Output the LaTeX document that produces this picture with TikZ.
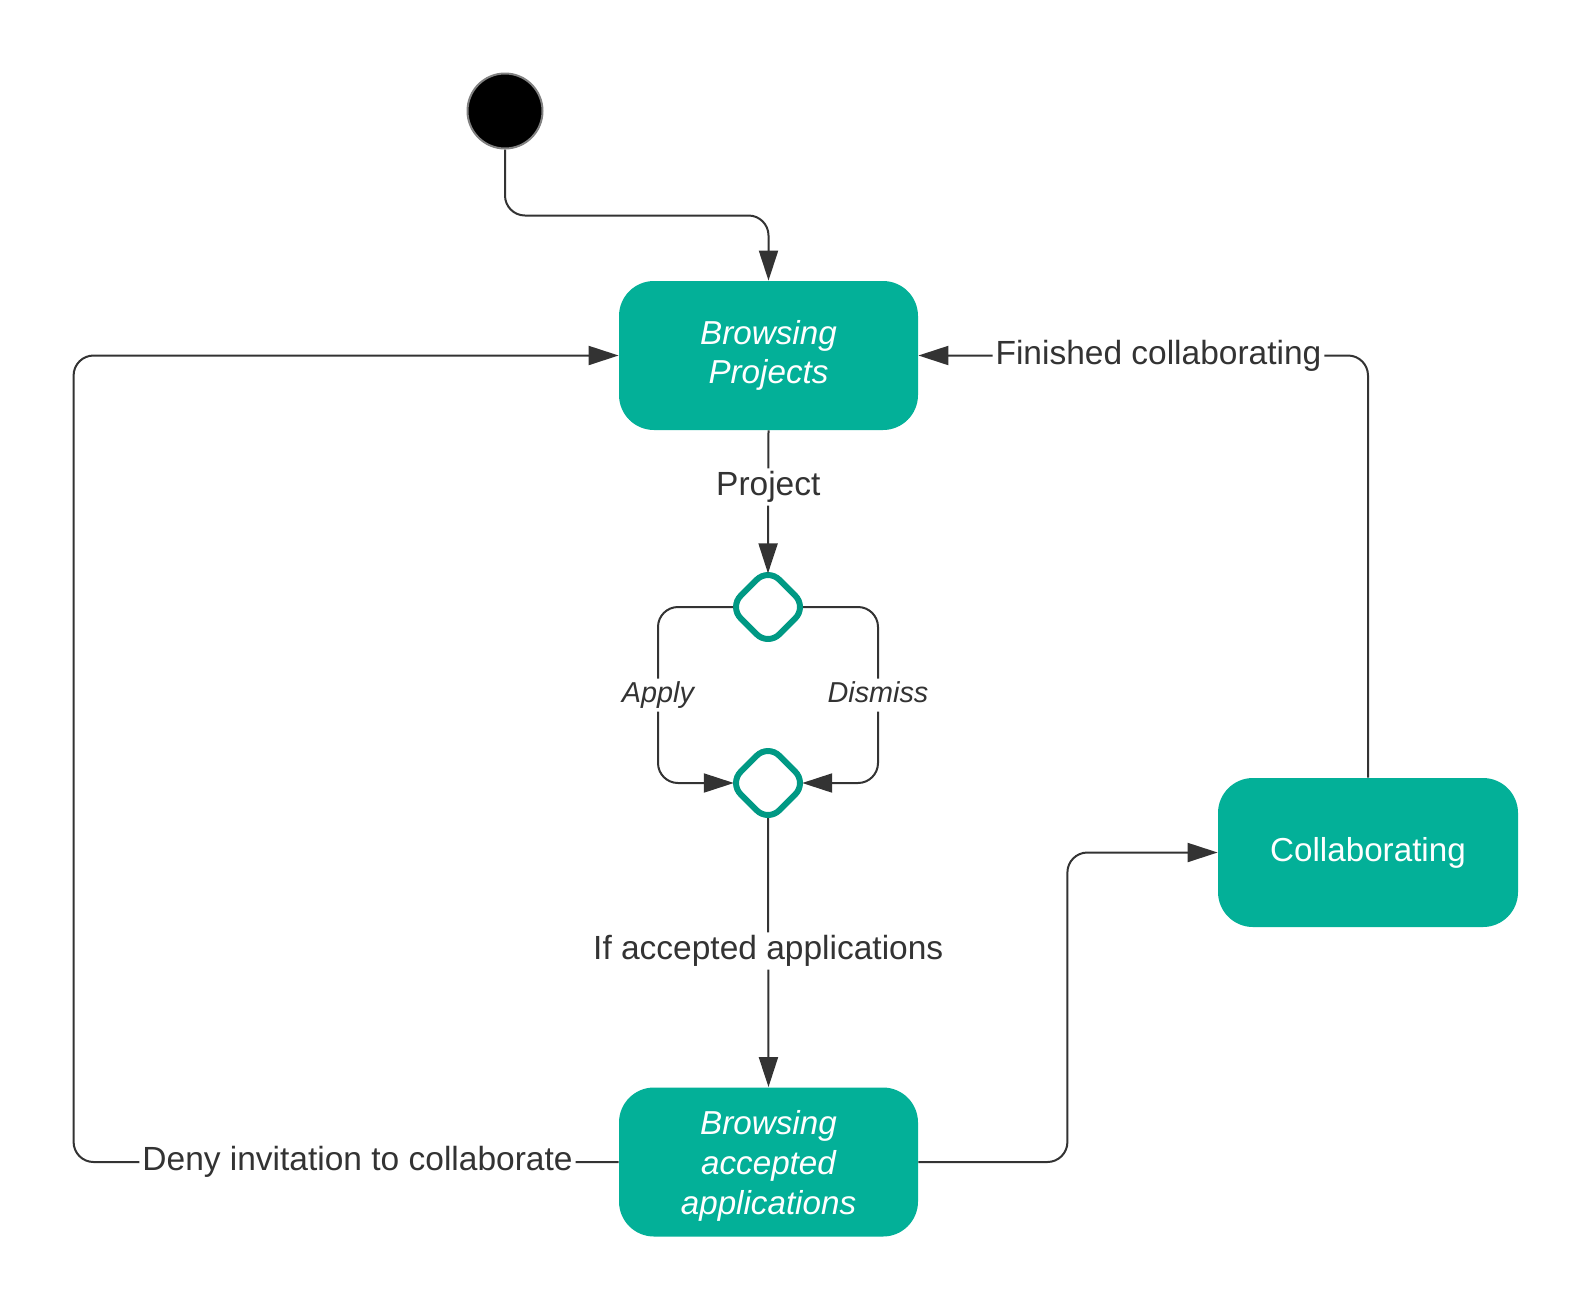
\documentclass[tikz,border=0pt]{standalone}
\usepackage{fontspec}
\setmainfont{Liberation Sans}
\usetikzlibrary{arrows.meta,shapes.geometric}
\definecolor{teal1}{RGB}{3,176,152}
\definecolor{teal2}{RGB}{0,153,132}
\definecolor{ink}{RGB}{51,51,51}
\begin{document}
\begin{tikzpicture}[x=0.5pt,y=-0.5pt,
 state/.style={rectangle, rounded corners=17.5pt, fill=teal1, text=white, minimum width=149.5pt, minimum height=74.5pt, align=center, font=\fontsize{16.6}{19.8}\selectfont\itshape, inner sep=0pt},
 choice/.style={diamond, draw=teal2, line width=3pt, rounded corners=8pt, minimum width=38.6pt, minimum height=38.6pt, inner sep=0pt, outer sep=0pt, aspect=1, fill=white},
 conn/.style={draw=ink, line width=1pt, rounded corners=10pt},
 arr/.style={-{Triangle[length=15pt,width=9.5pt]}},
 lbl/.style={fill=white, text=ink, inner sep=1.5pt, font=\fontsize{16.75}{20}\selectfont},
 ilbl/.style={fill=white, text=ink, inner sep=1.5pt, text height=10.5pt, text depth=3pt, font=\fontsize{14.4}{17}\selectfont\itshape}
]
\fill[white] (0,0) rectangle (1596,1313);
\useasboundingbox (0,0) rectangle (1596,1313);

\node[circle, fill=black, draw=gray, line width=1pt, minimum size=37.5pt, inner sep=0pt] (s) at (505,111) {};
\node[state] (b1) at (768.5,355.5) {Browsing\\Projects};
\node[choice] (d1) at (768,607) {};
\node[choice] (d2) at (768,783) {};
\node[state] (b2) at (768.5,1162) {\rule{0pt}{15.9pt}Browsing\\accepted\\applications};
\node[state, font=\fontsize{16.6}{19.8}\selectfont, minimum width=150pt] (b3) at (1368,852.5) {Collaborating};

\draw[conn,arr] (s.south) -- ++(0,66) -| (b1.north);
\draw[conn,arr,shorten >=-2.5pt] (b1.south) -- node[lbl,pos=0.41]{Project} (d1.north);
\draw[conn,arr,shorten >=-2.2pt,shorten <=-1.8pt] (d1.west) -- ++(-71.4,0) -- node[ilbl,pos=0.5]{Apply} ++(0,176) -- (d2.west);
\draw[conn,arr,shorten >=-2.2pt,shorten <=-1.8pt] (d1.east) -- ++(71.4,0) -- node[ilbl,pos=0.5]{Dismiss} ++(0,176) -- (d2.east);
\draw[conn,arr,shorten <=-1.8pt] (d2.south) -- node[lbl,pos=0.487]{If accepted applications} (b2.north);
\draw[conn,arr] (b2.west) -- node[lbl,pos=0.479]{Deny invitation to collaborate} ++(-545,0) |- (b1.west);
\draw[conn,arr] (b2.east) -- ++(149,0) |- (b3.west);
\draw[conn,arr] (b3.north) |- node[lbl,pos=0.733]{Finished collaborating} (b1.east);
\end{tikzpicture}
\end{document}
